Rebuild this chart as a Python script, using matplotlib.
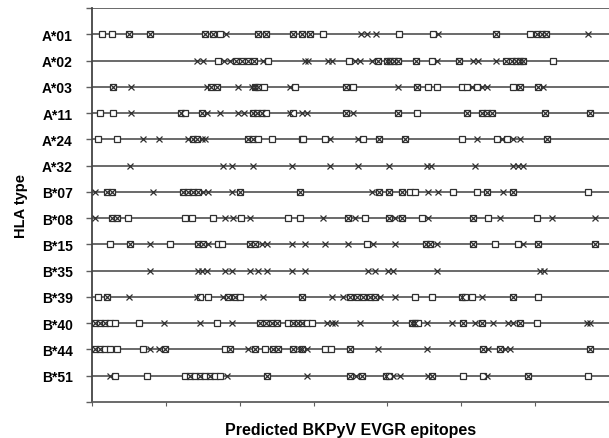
import matplotlib
matplotlib.use("Agg")
import matplotlib.pyplot as plt

plt.rcParams['font.family'] = ['Liberation Sans', 'DejaVu Sans']

# HLA types, top to bottom
hla_types = ["A*01", "A*02", "A*03", "A*11", "A*24", "A*32", "B*07",
             "B*08", "B*15", "B*35", "B*39", "B*40", "B*44", "B*51"]

# epitope positions (aa): squares and crosses per HLA type
a01_sq = [13, 27, 50, 78, 153, 164, 173, 225, 236, 272, 284, 295, 313, 416, 462, 547, 593, 603, 609, 615]
a01_x = [50, 78, 153, 164, 181, 225, 236, 272, 284, 295, 364, 372, 384, 468, 547, 603, 609, 615, 672]

a02_sq = [171, 195, 203, 211, 219, 238, 348, 387, 399, 403, 409, 414, 439, 460, 497, 561, 569, 574, 580, 584, 624]
a02_x = [142, 150, 179, 187, 195, 203, 211, 219, 232, 288, 292, 320, 325, 356, 363, 379, 387, 399, 403,
         409, 414, 439, 467, 497, 516, 523, 547, 561, 569, 574, 580, 584]

a03_sq = [28, 161, 169, 221, 225, 233, 275, 344, 353, 440, 455, 467, 501, 508, 521, 570, 580, 604]
a03_x = [28, 53, 156, 161, 169, 198, 217, 221, 225, 268, 344, 414, 440, 515, 528, 535, 580, 604, 611]

a11_sq = [11, 28, 120, 126, 149, 218, 223, 230, 236, 272, 344, 414, 440, 508, 528, 535, 542, 613, 674]
a11_x = [53, 120, 149, 156, 173, 198, 206, 218, 223, 230, 268, 284, 291, 344, 353, 414, 508, 528, 535,
         542, 613, 674]

a24_sq = [8, 34, 137, 142, 211, 218, 225, 244, 284, 286, 315, 367, 389, 424, 501, 548, 562, 616]
a24_x = [69, 91, 130, 137, 142, 149, 153, 211, 218, 322, 360, 389, 424, 521, 555, 570, 580, 616]

a32_sq = []
a32_x = [51, 177, 190, 218, 271, 322, 360, 402, 454, 459, 519, 570, 577, 584]

b07_sq = [20, 27, 123, 130, 137, 144, 200, 282, 389, 402, 420, 431, 437, 489, 521, 535, 570, 672]
b07_x = [4, 20, 27, 83, 123, 130, 137, 144, 150, 157, 190, 200, 282, 379, 389, 402, 420, 455, 468,
         535, 556, 570]

b08_sq = [27, 34, 49, 126, 135, 164, 202, 265, 282, 347, 370, 402, 420, 447, 516, 536, 603]
b08_x = [4, 27, 34, 180, 191, 214, 313, 347, 356, 402, 410, 420, 455, 516, 552, 623, 681]

b15_sq = [24, 51, 106, 144, 150, 171, 176, 214, 221, 372, 452, 458, 516, 546, 577, 604, 681]
b15_x = [51, 79, 144, 150, 157, 214, 221, 230, 237, 271, 288, 315, 347, 380, 410, 452, 458, 467,
         516, 584, 604, 681]

b35_sq = []
b35_x = [79, 144, 149, 156, 180, 190, 214, 225, 237, 271, 288, 374, 383, 401, 408, 467, 607, 612]

b39_sq = [8, 20, 146, 157, 184, 194, 200, 284, 349, 359, 367, 376, 383, 437, 460, 501, 505, 515, 570, 604]
b39_x = [20, 50, 142, 177, 184, 194, 232, 284, 325, 340, 349, 359, 367, 376, 383, 390, 410, 501, 528, 570]

b40_sq = [4, 11, 18, 24, 31, 64, 169, 227, 236, 244, 250, 265, 272, 279, 284, 291, 298, 433, 437,
          441, 502, 528, 580, 603]
b40_x = [4, 11, 18, 97, 146, 190, 227, 236, 244, 250, 272, 279, 284, 318, 325, 329, 363, 410, 433,
         437, 454, 487, 502, 519, 528, 543, 563, 570, 580, 670, 674]

b44_sq = [4, 11, 18, 24, 34, 69, 99, 180, 187, 221, 234, 245, 252, 272, 284, 315, 324, 349, 529, 552, 674]
b44_x = [4, 11, 79, 91, 99, 187, 211, 221, 245, 252, 272, 282, 284, 291, 349, 387, 454, 529, 536,
         552, 559, 566, 674]

b51_sq = [31, 74, 126, 133, 139, 146, 153, 160, 167, 173, 237, 349, 366, 398, 402, 460, 502, 529, 590, 672]
b51_x = [24, 133, 146, 160, 183, 237, 291, 349, 357, 366, 398, 408, 417, 455, 460, 535, 590]

squares = [a01_sq, a02_sq, a03_sq, a11_sq, a24_sq, a32_sq, b07_sq,
           b08_sq, b15_sq, b35_sq, b39_sq, b40_sq, b44_sq, b51_sq]
crosses = [a01_x, a02_x, a03_x, a11_x, a24_x, a32_x, b07_x,
           b08_x, b15_x, b35_x, b39_x, b40_x, b44_x, b51_x]

fig = plt.figure(figsize=(6.09, 4.39), dpi=100)
ax = fig.add_axes([0.151, 0.082, 0.849, 0.897])

line_col = "#5e5e5e"
mark_col = "#303030"

for i, name in enumerate(hla_types):
    row = i + 1
    ax.axhline(row, color=line_col, lw=1.3, zorder=1)
    xs = squares[i]
    ax.plot(xs, [row] * len(xs), ls="none", marker="s", ms=5, mfc="white",
            mec=mark_col, mew=0.9, zorder=3)
    xc = crosses[i]
    ax.plot(xc, [row] * len(xc), ls="none", marker="x", ms=4.5,
            mec=mark_col, mew=0.9, zorder=4)

ax.axhline(0, color=line_col, lw=1.3, zorder=1)

ax.set_xlim(0, 700)
ax.set_ylim(15, 0)
ax.set_yticks(range(0, 16))
ax.set_yticklabels([""] + hla_types + [""], fontsize=10, fontweight="bold")
ax.set_xticks(range(0, 701, 100))
ax.set_xticklabels([])
ax.tick_params(axis="y", length=4, width=1, color=line_col, pad=10)
ax.tick_params(axis="x", length=3, width=0.8, color=line_col)

for side in ["top", "right"]:
    ax.spines[side].set_visible(False)
ax.spines["left"].set_color("#444444")
ax.spines["left"].set_linewidth(1.3)
ax.spines["bottom"].set_color(line_col)
ax.spines["bottom"].set_linewidth(1.3)

ax.set_xlabel("Predicted BKPyV EVGR epitopes", fontsize=11.5, fontweight="bold", labelpad=8)
ax.set_ylabel("HLA type", fontsize=10.5, fontweight="bold", labelpad=10)

fig.savefig("out.png", dpi=100)
